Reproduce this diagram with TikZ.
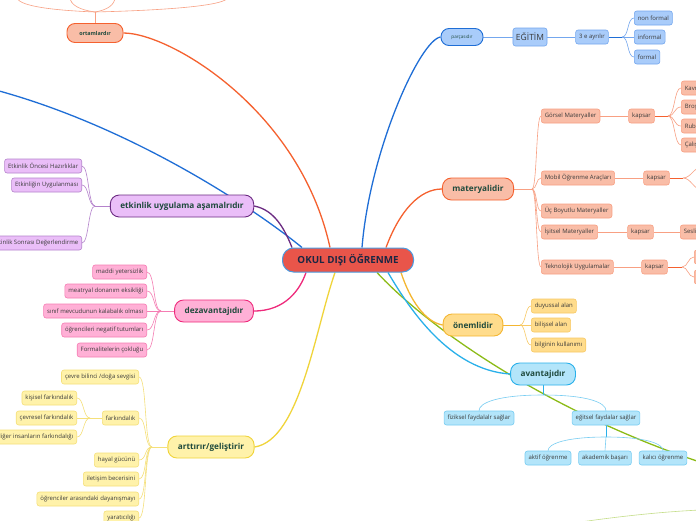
\documentclass[tikz,border=0pt]{standalone}
\usepackage{fontspec}
\setmainfont{Open Sans}
\usetikzlibrary{calc}
\usetikzlibrary{backgrounds}

\definecolor{hubfill}{HTML}{E9554A}
\definecolor{hubline}{HTML}{4A9BE0}
\definecolor{hubtext}{HTML}{1C2743}
\definecolor{inkmain}{HTML}{1F4A3D}
\definecolor{inkleaf}{HTML}{3B3B3B}
\definecolor{ortfill}{HTML}{F9BDA7}
\definecolor{ortline}{HTML}{F5612F}
\definecolor{ortedge}{HTML}{F8A083}
\definecolor{etkfill}{HTML}{EABEF8}
\definecolor{etkline}{HTML}{6B2B82}
\definecolor{etkedge}{HTML}{B583CC}
\definecolor{dezfill}{HTML}{FFB0D6}
\definecolor{dezline}{HTML}{EE2A7B}
\definecolor{dezedge}{HTML}{F57DB3}
\definecolor{artfill}{HTML}{FFF2AA}
\definecolor{artline}{HTML}{F0D43A}
\definecolor{artedge}{HTML}{F5E07A}
\definecolor{parfill}{HTML}{A9CCFA}
\definecolor{parline}{HTML}{1F6ED6}
\definecolor{paredge}{HTML}{74A7EE}
\definecolor{onmfill}{HTML}{FFDC8C}
\definecolor{onmline}{HTML}{F4B631}
\definecolor{onmedge}{HTML}{F8C964}
\definecolor{avnfill}{HTML}{B3E5FA}
\definecolor{avnline}{HTML}{29B0EA}
\definecolor{avnedge}{HTML}{78CDF2}
\definecolor{grnline}{HTML}{8CBB17}
\definecolor{grnthin}{HTML}{C5DE8A}

\tikzset{
  hub/.style={draw=hubline, fill=hubfill, line width=1pt, rounded corners=11pt,
    minimum width=131pt, minimum height=24pt, text=hubtext,
    font=\fontsize{9.8}{11}\selectfont\bfseries},
  topic/.style={line width=0.9pt, rounded corners=9pt, minimum height=22pt,
    inner xsep=10pt, inner ysep=0pt, text=inkmain,
    font=\fontsize{8.2}{9.5}\selectfont\bfseries},
  leaf/.style={line width=0.6pt, rounded corners=2.5pt, minimum height=14pt,
    inner xsep=3.5pt, inner ysep=0pt, text=inkleaf,
    font=\fontsize{6}{7}\selectfont},
  trunk/.style={line width=1.3pt},
  twig/.style={line width=0.6pt},
  orttopic/.style={topic, fill=ortfill, draw=ortline},
  ortleaf/.style={leaf, fill=ortfill, draw=ortedge},
  etktopic/.style={topic, fill=etkfill, draw=etkline},
  etkleaf/.style={leaf, fill=etkfill, draw=etkedge},
  deztopic/.style={topic, fill=dezfill, draw=dezline},
  dezleaf/.style={leaf, fill=dezfill, draw=dezedge},
  arttopic/.style={topic, fill=artfill, draw=artline},
  artleaf/.style={leaf, fill=artfill, draw=artedge},
  partopic/.style={topic, fill=parfill, draw=parline},
  parleaf/.style={leaf, fill=parfill, draw=paredge},
  onmtopic/.style={topic, fill=onmfill, draw=onmline},
  onmleaf/.style={leaf, fill=onmfill, draw=onmedge},
  avntopic/.style={topic, fill=avnfill, draw=avnline},
  avnleaf/.style={leaf, fill=avnfill, draw=avnedge},
}

\begin{document}
\begin{tikzpicture}[x=1pt,y=-1pt]
    \useasboundingbox (0,0) rectangle (696,520);
    \clip (0,0) rectangle (696,520);

    %center
    \node[hub] (okul) at (348,260) {OKUL DIŞI ÖĞRENME};

    %left topics
    \node[orttopic, minimum width=56pt, minimum height=19pt, rounded corners=8pt,
      inner xsep=3pt, font=\fontsize{5.4}{6}\selectfont\bfseries] (ortam) at (95,33) {ortamlardır};
    \node[etktopic] (etkin) at (182,206) {etkinlik uygulama aşamalrıdır};
    \node[deztopic] (dez) at (214,311) {dezavantajıdır};
    \node[arttopic] (art) at (211,447) {arttırır/geliştirir};

    %right topics
    \node[partopic, minimum width=42pt, minimum height=17pt, rounded corners=8pt,
      inner xsep=3pt, font=\fontsize{4.6}{5}\selectfont] (parca) at (462,37) {parçasıdır};
    \node[orttopic] (mat) at (478,189) {materyalidir};
    \node[onmtopic] (onem) at (473,325) {önemlidir};
    \node[avntopic] (avan) at (543,374) {avantajıdır};

    %etkinlik leaves
    \node[etkleaf, anchor=east] (e1) at (82,166) {Etkinlik Öncesi Hazırlıklar};
    \node[etkleaf, anchor=east] (e2) at (82,185) {Etkinliğin Uygulanması};
    \node[etkleaf, anchor=east] (e3) at (82,243) {Etkinlik Sonrası Değerlendirme};

    %dezavantaj leaves
    \node[dezleaf, anchor=east] (d1) at (147,272) {maddi yetersizlik};
    \node[dezleaf, anchor=east] (d2) at (147,291) {meatryal donanım eksikliği};
    \node[dezleaf, anchor=east] (d3) at (147,311) {sınıf mevcudunun kalabalık olması};
    \node[dezleaf, anchor=east] (d4) at (147,330) {öğrencileri negatif tutumları};
    \node[dezleaf, anchor=east] (d5) at (147,350) {Formalitelerin çokluğu};

    %arttirir leaves
    \node[artleaf, anchor=east] (r1) at (139,377) {çevre bilinci /doğa sevgisi};
    \node[artleaf, anchor=east] (r2) at (139,418) {farkındalık};
    \node[artleaf, anchor=east] (r3) at (139,460) {hayal gücünü};
    \node[artleaf, anchor=east] (r4) at (139,479) {iletişim becerisini};
    \node[artleaf, anchor=east] (r5) at (139,499) {öğrenciler arasındaki dayanışmayı};
    \node[artleaf, anchor=east] (r6) at (139,518) {yaratıcılığı};
    \node[artleaf, anchor=east] (f1) at (77,398) {kişisel farkındalık};
    \node[artleaf, anchor=east] (f2) at (77,418) {çevresel farkındalık};
    \node[artleaf, anchor=east] (f3) at (77,437) {diğer insanların farkındalığı};

    %egitim chain
    \node[parleaf, minimum height=18pt, inner xsep=3pt,
      font=\fontsize{8.5}{9}\selectfont] (egitim) at (530,37) {EĞİTİM};
    \node[parleaf] (ayri) at (592,37) {3 e ayrılır};
    \node[parleaf, anchor=west] (p1) at (634,18) {non formal};
    \node[parleaf, anchor=west] (p2) at (634,37) {informal};
    \node[parleaf, anchor=west] (p3) at (634,57) {formal};

    %materyal leaves
    \node[ortleaf, anchor=west] (m1) at (541,116) {Görsel Materyaller};
    \node[ortleaf, anchor=west] (m2) at (541,178) {Mobil Öğrenme Araçları};
    \node[ortleaf, anchor=west] (m3) at (541,211) {Üç Boyutlu Materyaller};
    \node[ortleaf, anchor=west] (m4) at (541,232) {İşitsel Materyaller};
    \node[ortleaf, anchor=west] (m5) at (541,267) {Teknolojik Uygulamalar};
    \node[ortleaf] (k1) at (641.5,116) {kapsar};
    \node[ortleaf] (k2) at (656.5,178) {kapsar};
    \node[ortleaf] (k3) at (640.5,232) {kapsar};
    \node[ortleaf] (k4) at (654.5,267) {kapsar};
    \node[ortleaf, anchor=west] (g1) at (681,88) {Kavram Haritaları};
    \node[ortleaf, anchor=west] (g2) at (681,107) {Broşürler};
    \node[ortleaf, anchor=west] (g3) at (681,126) {Rubrikler};
    \node[ortleaf, anchor=west] (g4) at (681,145) {Çalışma Kağıtları};
    \node[ortleaf, anchor=west] (s1) at (680,232) {Sesli Kitaplar};
    \node[ortleaf, anchor=west] (t1) at (694,257) {Eğitsel Oyunlar};
    \node[ortleaf, anchor=west] (t2) at (694,277) {Simülasyonlar};

    %onemli leaves
    \node[onmleaf, anchor=west] (n1) at (531,306) {duyussal alan};
    \node[onmleaf, anchor=west] (n2) at (531,325) {bilişsel alan};
    \node[onmleaf, anchor=west] (n3) at (531,345) {bilginin kullanımı};

    %avantaj leaves
    \node[avnleaf] (v1) at (479,418) {fiziksel faydalalr sağlar};
    \node[avnleaf] (v2) at (606,418) {eğitsel faydalar sağlar};
    \node[avnleaf] (w1) at (548,458) {aktif öğrenme};
    \node[avnleaf] (w2) at (605,458) {akademik başarı};
    \node[avnleaf] (w3) at (663,458) {kalıcı öğrenme};

    %free ends and junctions
    \coordinate (farleft) at (-20,86);
    \coordinate (grnnode) at (725,470);
    \coordinate (grnj) at (740,509);
    \coordinate (grnk) at (540,528);
    \coordinate (oj) at (95,12);
    \coordinate (o1) at (17,-3);
    \coordinate (o2) at (70,-3);
    \coordinate (o3) at (115,-3);
    \coordinate (o4) at (228,-3);
    \coordinate (ej) at (95,206);
    \coordinate (dj) at (161,311);
    \coordinate (rj) at (152,447);
    \coordinate (fj) at (90,418);
    \coordinate (pj) at (622,37);
    \coordinate (mj) at (532,189);
    \coordinate (gj) at (668,116);
    \coordinate (k2j) at (683,178);
    \coordinate (k2a) at (702,167);
    \coordinate (k2b) at (702,190);
    \coordinate (tj) at (682,267);
    \coordinate (nj) at (520,325);
    \coordinate (vj) at (543,395);
    \coordinate (wj) at (606,437);

    \begin{pgfonlayer}{background}
    \fill[white] (0,0) rectangle (696,520);
    \clip (0,0) rectangle (696,520);

    %branches from the center
    \draw[trunk, ortline] ([xshift=-18pt]okul.north) .. controls (300,110) and (170,33) .. (ortam.east);
    \draw[trunk, parline] ([xshift=-46pt]okul.north) .. controls (250,205) and (120,120) .. (farleft);
    \draw[trunk, etkline] ([xshift=-56pt]okul.north) .. controls (285,230) and (275,210) .. (etkin.east);
    \draw[trunk, parline] ([xshift=14pt]okul.north) .. controls (370,150) and (420,40) .. (parca.west);
    \draw[trunk, ortline] ([xshift=38pt]okul.north) .. controls (400,210) and (420,189) .. (mat.west);
    \draw[trunk, dezline] ([xshift=-42pt]okul.south) .. controls (300,290) and (285,311) .. (dez.east);
    \draw[trunk, artline] ([xshift=-13pt]okul.south) .. controls (315,330) and (300,440) .. (art.east);
    \draw[trunk, grnline] ([xshift=29pt]okul.south) .. controls (430,330) and (560,420) .. (grnnode);
    \draw[trunk, avnline] ([xshift=40pt]okul.south) .. controls (410,310) and (450,370) .. (avan.west);
    \draw[trunk, onmline] ([xshift=53pt]okul.south) .. controls (410,300) and (425,322) .. (onem.west);

    %ortamlar children
    \draw[twig, ortedge] (ortam.north) -- (oj);
    \draw[twig, ortedge] (oj) .. controls +(-50,-2) and +(0,8) .. (o1);
    \draw[twig, ortedge] (oj) .. controls +(-15,-2) and +(0,8) .. (o2);
    \draw[twig, ortedge] (oj) .. controls +(12,-2) and +(0,8) .. (o3);
    \draw[twig, ortedge] (oj) .. controls +(80,-2) and +(0,8) .. (o4);

    %etkinlik children
    \draw[twig, etkedge] (etkin.west) -- (ej);
    \draw[twig, etkedge] (ej) .. controls +(-7,0) and +(7,0) .. (e1.east);
    \draw[twig, etkedge] (ej) .. controls +(-7,0) and +(7,0) .. (e2.east);
    \draw[twig, etkedge] (ej) .. controls +(-7,0) and +(7,0) .. (e3.east);

    %dezavantaj children
    \draw[twig, dezedge] (dez.west) -- (dj);
    \draw[twig, dezedge] (dj) .. controls +(-8,0) and +(8,0) .. (d1.east);
    \draw[twig, dezedge] (dj) .. controls +(-8,0) and +(8,0) .. (d2.east);
    \draw[twig, dezedge] (dj) -- (d3.east);
    \draw[twig, dezedge] (dj) .. controls +(-8,0) and +(8,0) .. (d4.east);
    \draw[twig, dezedge] (dj) .. controls +(-8,0) and +(8,0) .. (d5.east);

    %arttirir children
    \draw[twig, artedge] (art.west) -- (rj);
    \draw[twig, artedge] (rj) .. controls +(-8,0) and +(8,0) .. (r1.east);
    \draw[twig, artedge] (rj) .. controls +(-8,0) and +(8,0) .. (r2.east);
    \draw[twig, artedge] (rj) .. controls +(-8,0) and +(8,0) .. (r3.east);
    \draw[twig, artedge] (rj) .. controls +(-8,0) and +(8,0) .. (r4.east);
    \draw[twig, artedge] (rj) .. controls +(-8,0) and +(8,0) .. (r5.east);
    \draw[twig, artedge] (rj) .. controls +(-8,0) and +(8,0) .. (r6.east);
    \draw[twig, artedge] (r2.west) -- (fj);
    \draw[twig, artedge] (fj) .. controls +(-7,0) and +(7,0) .. (f1.east);
    \draw[twig, artedge] (fj) -- (f2.east);
    \draw[twig, artedge] (fj) .. controls +(-7,0) and +(7,0) .. (f3.east);

    %egitim chain
    \draw[twig, paredge] (parca.east) -- (egitim.west);
    \draw[twig, paredge] (egitim.east) -- (ayri.west);
    \draw[twig, parline] (ayri.east) -- (pj);
    \draw[twig, paredge] (pj) .. controls +(7,0) and +(-7,0) .. (p1.west);
    \draw[twig, paredge] (pj) -- (p2.west);
    \draw[twig, paredge] (pj) .. controls +(7,0) and +(-7,0) .. (p3.west);

    %materyal children
    \draw[twig, ortedge] (mat.east) -- (mj);
    \draw[twig, ortedge] (mj) .. controls +(5,0) and +(-5,0) .. (m1.west);
    \draw[twig, ortedge] (mj) .. controls +(5,0) and +(-5,0) .. (m2.west);
    \draw[twig, ortedge] (mj) .. controls +(5,0) and +(-5,0) .. (m3.west);
    \draw[twig, ortedge] (mj) .. controls +(5,0) and +(-5,0) .. (m4.west);
    \draw[twig, ortedge] (mj) .. controls +(5,0) and +(-5,0) .. (m5.west);
    \draw[twig, ortedge] (m1.east) -- (k1.west);
    \draw[twig, ortedge] (m2.east) -- (k2.west);
    \draw[twig, ortedge] (m4.east) -- (k3.west);
    \draw[twig, ortedge] (m5.east) -- (k4.west);
    \draw[twig, ortline] (k1.east) -- (gj);
    \draw[twig, ortedge] (gj) .. controls +(7,0) and +(-7,0) .. (g1.west);
    \draw[twig, ortedge] (gj) .. controls +(7,0) and +(-7,0) .. (g2.west);
    \draw[twig, ortedge] (gj) .. controls +(7,0) and +(-7,0) .. (g3.west);
    \draw[twig, ortedge] (gj) .. controls +(7,0) and +(-7,0) .. (g4.west);
    \draw[twig, ortline] (k2.east) -- (k2j);
    \draw[twig, ortedge] (k2j) .. controls +(8,0) and +(-8,0) .. (k2a);
    \draw[twig, ortedge] (k2j) .. controls +(8,0) and +(-8,0) .. (k2b);
    \draw[twig, ortedge] (k3.east) -- (s1.west);
    \draw[twig, ortline] (k4.east) -- (tj);
    \draw[twig, ortedge] (tj) .. controls +(6,0) and +(-6,0) .. (t1.west);
    \draw[twig, ortedge] (tj) .. controls +(6,0) and +(-6,0) .. (t2.west);

    %onemli children
    \draw[twig, onmline] (onem.east) -- (nj);
    \draw[twig, onmedge] (nj) .. controls +(6,0) and +(-6,0) .. (n1.west);
    \draw[twig, onmedge] (nj) -- (n2.west);
    \draw[twig, onmedge] (nj) .. controls +(6,0) and +(-6,0) .. (n3.west);

    %avantaj children
    \draw[twig, avnline] (avan.south) -- (vj);
    \draw[twig, avnedge] (vj) .. controls +(-45,0) and +(0,-8) .. (v1.north);
    \draw[twig, avnedge] (vj) .. controls +(45,0) and +(0,-8) .. (v2.north);
    \draw[twig, avnline] (v2.south) -- (wj);
    \draw[twig, avnedge] (wj) .. controls +(-40,0) and +(0,-7) .. (w1.north);
    \draw[twig, avnedge] (wj) -- (w2.north);
    \draw[twig, avnedge] (wj) .. controls +(40,0) and +(0,-7) .. (w3.north);

    %green branch child
    \draw[twig, grnthin] (grnj) .. controls +(-80,0) and +(40,-6) .. (grnk);
    \end{pgfonlayer}
\end{tikzpicture}
\end{document}
